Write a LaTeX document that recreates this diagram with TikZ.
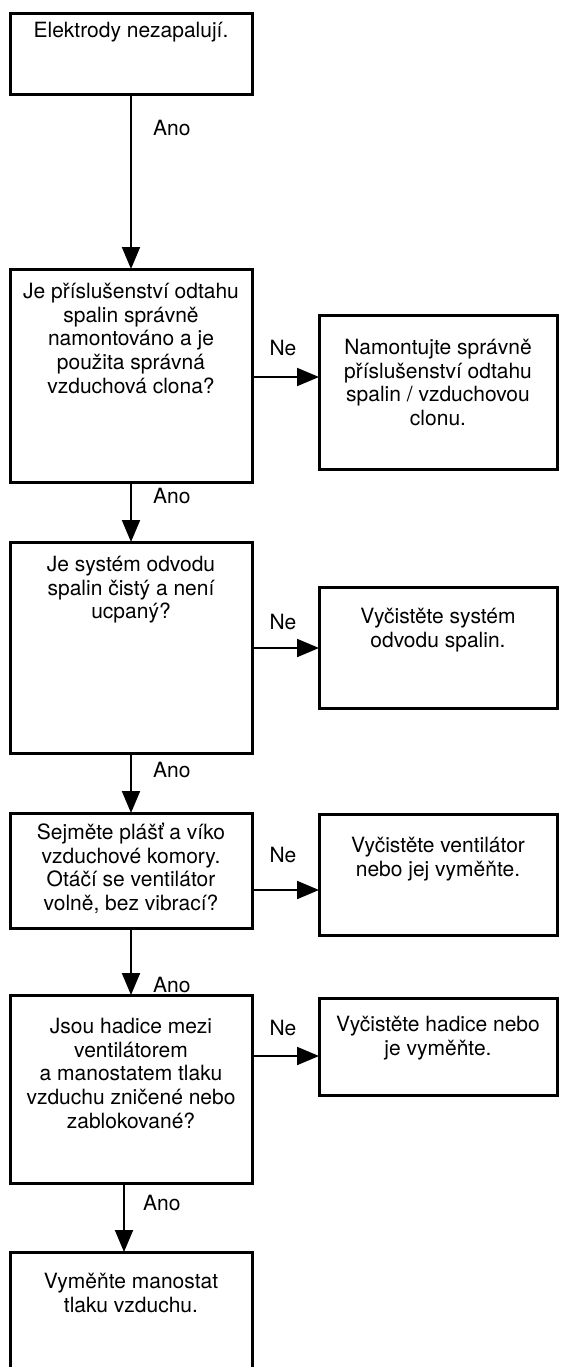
\documentclass[tikz,border=0pt]{standalone}
\usepackage{fontspec}
\setmainfont{TeX Gyre Heros}
\usetikzlibrary{arrows.meta,fit}
\newcommand\fs{\rule{0pt}{22pt}}
\begin{document}
\begin{tikzpicture}[x=1pt,y=-1pt,
  box/.style={draw, line width=3pt, inner sep=0pt, outer sep=0pt},
  txt/.style={font=\fontsize{21}{23.8}\selectfont, align=center, inner sep=0pt, anchor=north},
  lbl/.style={font=\fontsize{21}{23.8}\selectfont, inner sep=0pt},
  arr/.style={line width=2pt, -{Triangle[length=22pt,width=18pt]}}]
\useasboundingbox (0,0) rectangle (560,1367);
\clip (0,0) rectangle (560,1367);
% boxes
\node[box, fit={(10,14) (252,95)}] (b1) {};
\node[box, fit={(10,269) (252,482)}] (b2) {};
\node[box, fit={(319,315) (557,469)}] (r1) {};
\node[box, fit={(10,542) (252,753)}] (b3) {};
\node[box, fit={(319,587) (557,708)}] (r2) {};
\node[box, fit={(10,813) (252,928)}] (b4) {};
\node[box, fit={(319,814) (557,935)}] (r3) {};
\node[box, fit={(10,995) (252,1183)}] (b5) {};
\node[box, fit={(319,998) (557,1095)}] (r4) {};
\node[box, fit={(10,1252) (252,1420)}] (b6) {};
% texts
\node[txt] (t1) at (131,15) {\fs Elektrody nezapalují.};
\node[txt] (t2) at (131,276) {\fs Je příslušenství odtahu\\spalin správně\\namontováno a je\\použita správná\\vzduchová clona?};
\node[txt] (tr1) at (438,332) {\fs Namontujte správně\\příslušenství odtahu\\spalin / vzduchovou\\clonu.};
\node[txt] (t3) at (131,549) {\fs Je systém odvodu\\spalin čistý a není\\ucpaný?};
\node[txt] (tr2) at (438,601) {\fs Vyčistěte systém\\odvodu spalin.};
\node[txt] (t4) at (131,817) {\fs Sejměte plášť a víko\\vzduchové komory.\\Otáčí se ventilátor\\volně, bez vibrací?};
\node[txt] (tr3) at (438,830) {\fs Vyčistěte ventilátor\\nebo jej vyměňte.};
\node[txt] (t5) at (131,1011) {\fs Jsou hadice mezi\\ventilátorem\\a manostatem tlaku\\vzduchu zničené nebo\\zablokované?};
\node[txt] (tr4) at (438,1009) {\fs Vyčistěte hadice nebo\\je vyměňte.};
\node[txt] (t6) at (131,1266) {\fs Vyměňte manostat\\tlaku vzduchu.};
% labels
\node[lbl, anchor=west] (a1) at (153,128) {Ano};
\node[lbl, anchor=west] (a2) at (153,496) {Ano};
\node[lbl, anchor=west] (a3) at (153,770) {Ano};
\node[lbl, anchor=west] (a4) at (153,985) {Ano};
\node[lbl, anchor=west] (a5) at (143,1203) {Ano};
\node[lbl] (n1) at (283,348) {Ne};
\node[lbl] (n2) at (283,622) {Ne};
\node[lbl] (n3) at (283,855) {Ne};
\node[lbl] (n4) at (283,1028) {Ne};
% arrows
\draw[arr] (b1.south) -- (b2.north);
\draw[arr] (b2.south) -- (b3.north);
\draw[arr] (b3.south) -- (b4.north);
\draw[arr] (b4.south) -- (b5.north);
\draw[arr] ([xshift=-7pt]b5.south) -- ([xshift=-7pt]b6.north);
\draw[arr] (b2.east |- 0,377) -- (r1.west |- 0,377);
\draw[arr] (b3.east |- 0,648) -- (r2.west |- 0,648);
\draw[arr] (b4.east |- 0,890) -- (r3.west |- 0,890);
\draw[arr] (b5.east |- 0,1056) -- (r4.west |- 0,1056);
\end{tikzpicture}
\end{document}
